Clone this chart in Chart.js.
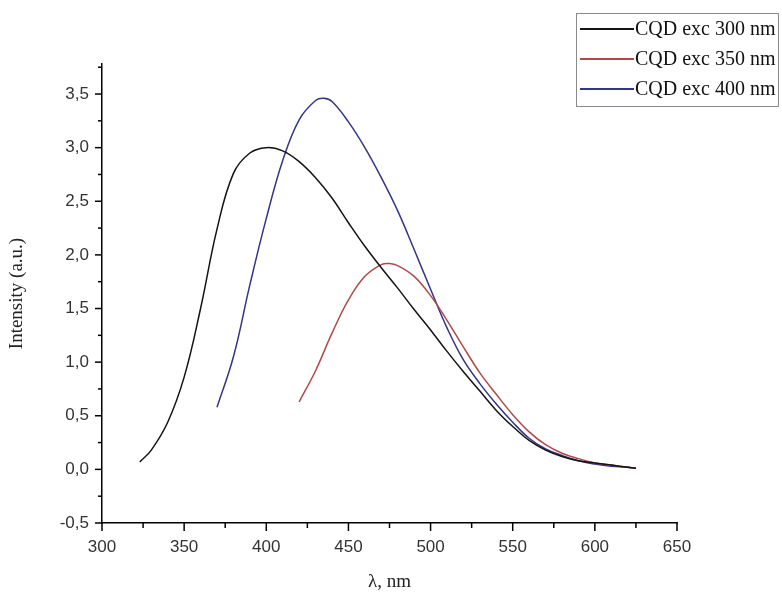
<!DOCTYPE html>
<html>
<head>
<meta charset="utf-8">
<script src="https://cdn.jsdelivr.net/npm/chart.js@4.4.1/dist/chart.umd.min.js"></script>
<style>
  html, body { margin: 0; padding: 0; background: #fff; }
  #wrap { width: 782px; height: 599px; position: relative; }
</style>
</head>
<body>
<div id="wrap"><canvas id="c" width="782" height="599"></canvas></div>
<script>
// ---- data ----
const seriesLabels = ['CQD exc 300 nm', 'CQD exc 350 nm', 'CQD exc 400 nm'];

const wl300 = [323, 330, 340, 350, 360, 370, 380, 390, 400, 410, 420, 430, 440, 450, 460, 470, 480, 490, 500, 510, 520, 530, 540, 550, 560, 570, 580, 590, 600, 610, 620, 625];
const int300 = [0.07, 0.18, 0.44, 0.86, 1.50, 2.24, 2.76, 2.95, 3.00, 2.97, 2.87, 2.72, 2.53, 2.30, 2.08, 1.88, 1.69, 1.49, 1.30, 1.10, 0.91, 0.73, 0.55, 0.40, 0.27, 0.18, 0.12, 0.08, 0.06, 0.04, 0.02, 0.01];

const wl350 = [420, 430, 440, 450, 460, 470, 475, 480, 490, 500, 510, 520, 530, 540, 550, 560, 570, 580, 590, 600, 610, 620, 625];
const int350 = [0.63, 0.92, 1.27, 1.58, 1.80, 1.91, 1.92, 1.90, 1.80, 1.62, 1.39, 1.14, 0.90, 0.70, 0.51, 0.35, 0.23, 0.15, 0.10, 0.06, 0.04, 0.02, 0.01];

const wl400 = [370, 380, 390, 400, 410, 420, 430, 435, 440, 450, 460, 470, 480, 490, 500, 510, 520, 530, 540, 550, 560, 570, 580, 590, 600, 610, 620, 625];
const int400 = [0.58, 1.05, 1.72, 2.34, 2.88, 3.26, 3.44, 3.46, 3.43, 3.24, 3.00, 2.72, 2.41, 2.05, 1.68, 1.32, 1.02, 0.80, 0.61, 0.44, 0.29, 0.19, 0.13, 0.08, 0.05, 0.03, 0.02, 0.01];

const xTicks = [300, 350, 400, 450, 500, 550, 600, 650];
const yTicks = [-0.5, 0.0, 0.5, 1.0, 1.5, 2.0, 2.5, 3.0, 3.5];
const xAxisTitle = 'λ, nm';
const yAxisTitle = 'Intensity (a.u.)';

// ---- build ----
const colors = ['#141414', '#b04a48', '#34348a'];
function pts(xs, ys) { return xs.map((x, i) => ({ x: x, y: ys[i] })); }
const datasets = [
  { label: seriesLabels[0], data: pts(wl300, int300) },
  { label: seriesLabels[1], data: pts(wl350, int350) },
  { label: seriesLabels[2], data: pts(wl400, int400) }
].map((d, i) => Object.assign(d, {
  borderColor: colors[i], backgroundColor: colors[i], borderWidth: 1.5,
  pointRadius: 0, fill: false, tension: 0.4
}));

const tickPlugin = {
  id: 'ticksAndLegend',
  afterDraw(chart) {
    const ctx = chart.ctx;
    const xs = chart.scales.x, ys = chart.scales.y;
    ctx.save();
    ctx.strokeStyle = '#000';
    ctx.lineWidth = 1.5;
    for (let i = 0; i < xTicks.length; i++) {
      const px = xs.getPixelForValue(xTicks[i]);
      ctx.beginPath(); ctx.moveTo(px, xs.top); ctx.lineTo(px, xs.top + 8); ctx.stroke();
      if (i < xTicks.length - 1) {
        const pm = xs.getPixelForValue((xTicks[i] + xTicks[i + 1]) / 2);
        ctx.beginPath(); ctx.moveTo(pm, xs.top); ctx.lineTo(pm, xs.top + 5); ctx.stroke();
      }
    }
    for (let i = 0; i < yTicks.length; i++) {
      const py = ys.getPixelForValue(yTicks[i]);
      ctx.beginPath(); ctx.moveTo(ys.right, py); ctx.lineTo(ys.right - 7, py); ctx.stroke();
      const pm = ys.getPixelForValue(yTicks[i] + 0.25);
      if (yTicks[i] + 0.25 <= ys.max) {
        ctx.beginPath(); ctx.moveTo(ys.right, pm); ctx.lineTo(ys.right - 4, pm); ctx.stroke();
      }
    }
    // legend
    const L = 576, T = 13, R = 778, B = 106;
    ctx.lineWidth = 1;
    ctx.strokeStyle = '#8a8a8a';
    ctx.strokeRect(L + 0.5, T + 0.5, R - L, B - T);
    const rows = [29, 59, 89];
    ctx.font = '20px "Liberation Serif", "Times New Roman", serif';
    ctx.textBaseline = 'middle';
    ctx.textAlign = 'left';
    chart.data.datasets.forEach((d, i) => {
      ctx.strokeStyle = d.borderColor;
      ctx.lineWidth = 1.8;
      ctx.beginPath(); ctx.moveTo(580, rows[i]); ctx.lineTo(634, rows[i]); ctx.stroke();
      ctx.fillStyle = '#111';
      ctx.fillText(d.label, 635, rows[i] + 1);
    });
    ctx.restore();
  }
};

new Chart(document.getElementById('c'), {
  type: 'line',
  data: { datasets: datasets },
  plugins: [tickPlugin],
  options: {
    responsive: false,
    animation: false,
    layout: { padding: { left: 0, right: 105, top: 64, bottom: 0 } },
    plugins: { legend: { display: false }, tooltip: { enabled: false } },
    scales: {
      x: {
        type: 'linear', min: 300, max: 650,
        afterFit: s => { s.height = 76; },
        afterBuildTicks: s => { s.ticks = xTicks.map(v => ({ value: v })); },
        grid: { display: false, drawTicks: true, tickLength: 8 },
        border: { display: true, color: '#000', width: 1.5 },
        ticks: { color: '#333', padding: 6, maxRotation: 0,
                 font: { family: '"Liberation Sans", Arial, sans-serif', size: 17 } },
        title: { display: true, text: xAxisTitle, color: '#222',
                 font: { family: '"Liberation Serif", "Times New Roman", serif', size: 19 },
                 padding: { top: 0, bottom: 6 } }
      },
      y: {
        type: 'linear', min: -0.5, max: 3.78,
        afterFit: s => { s.width = 102; },
        afterBuildTicks: s => { s.ticks = yTicks.map(v => ({ value: v })); },
        grid: { display: false, drawTicks: true, tickLength: 7 },
        border: { display: true, color: '#000', width: 1.5 },
        ticks: { color: '#333', padding: 6,
                 font: { family: '"Liberation Sans", Arial, sans-serif', size: 17 },
                 callback: v => v.toFixed(1).replace('.', ',') },
        title: { display: true, text: yAxisTitle, color: '#222',
                 font: { family: '"Liberation Serif", "Times New Roman", serif', size: 19 },
                 padding: { top: 6, bottom: 0 } }
      }
    }
  }
});
</script>
</body>
</html>
